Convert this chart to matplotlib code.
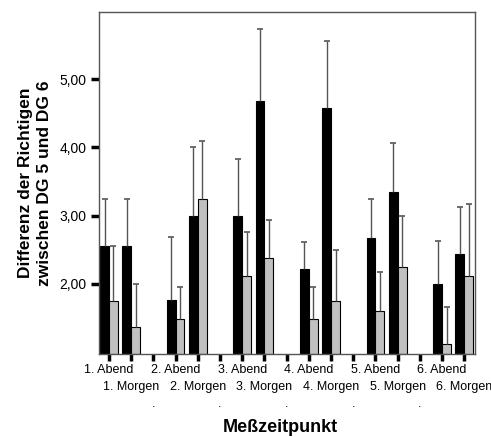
import numpy as np
import matplotlib.pyplot as plt
from matplotlib.transforms import blended_transform_factory

plt.rcParams["font.family"] = ["Liberation Sans", "DejaVu Sans"]

# one entry per measurement point (6 evenings, 6 mornings)
labels = ["1. Abend", "1. Morgen", "2. Abend", "2. Morgen", "3. Abend", "3. Morgen",
          "4. Abend", "4. Morgen", "5. Abend", "5. Morgen", "6. Abend", "6. Morgen"]
black_means = [2.55, 2.55, 1.77, 3.00, 3.00, 4.68, 2.22, 4.57, 2.67, 3.34, 2.00, 2.44]
black_upper = [3.24, 3.25, 2.68, 4.01, 3.83, 5.73, 2.61, 5.56, 3.24, 4.07, 2.63, 3.12]
gray_means = [1.75, 1.37, 1.49, 3.24, 2.11, 2.38, 1.49, 1.75, 1.61, 2.25, 1.12, 2.11]
gray_upper = [2.55, 2.00, 1.95, 4.09, 2.76, 2.94, 1.95, 2.49, 2.18, 3.00, 1.66, 3.17]
yticks = [2, 3, 4, 5]

# positions: two points per day, then an empty slot
pos = np.array([3 * (i // 2) + (i % 2) for i in range(len(labels))])
gaps = np.arange(2, 17, 3)
ymin = 0.975
w = 0.4

fig = plt.figure(figsize=(4.91, 4.37), dpi=100)
ax = fig.add_axes([0.2016, 0.19, 0.7658, 0.7832])

bm = np.array(black_means)
gm = np.array(gray_means)
ax.bar(pos - w / 2, bm - ymin, w, bottom=ymin, color="black", edgecolor="black", linewidth=0.8, zorder=2)
ax.bar(pos + w / 2, gm - ymin, w, bottom=ymin, color="#c0c0c0", edgecolor="black", linewidth=0.8, zorder=2)

for x, m, u in [(pos - w / 2, bm, np.array(black_upper)), (pos + w / 2, gm, np.array(gray_upper))]:
    eb = ax.errorbar(x, m, yerr=[np.zeros_like(m), u - m], fmt="none", ecolor="#555555",
                     elinewidth=1.0, capsize=2.5, capthick=1.2, zorder=3)
    caps = eb[1]
    caps[0].set_visible(False)
    caps[1].set_color("black")

ax.set_xlim(-0.45, 16.48)
ax.set_ylim(ymin, 5.985)

# x tick labels in three staggered rows
ax.set_xticks(np.arange(17))
ax.set_xticklabels([])
trans = blended_transform_factory(ax.transData, fig.transFigure)
for p, lab in zip(pos, labels):
    y = 1 - 370 / 437 if "Abend" in lab else 1 - 387 / 437
    ax.text(p, y, lab, transform=trans, ha="center", va="center", fontsize=9)
for g in gaps:
    ax.text(g, 1 - 404 / 437, ".", transform=trans, ha="center", va="center", fontsize=9)

ax.set_yticks(yticks)
ax.set_yticklabels([f"{v:.2f}".replace(".", ",") for v in yticks], fontsize=10)

ax.tick_params(axis="both", direction="out", width=2.5, color="black")
ax.tick_params(axis="y", length=6, pad=3)
ax.tick_params(axis="x", length=5, pad=3)
for s in ax.spines.values():
    s.set_color("#555555")
    s.set_linewidth(1.0)

fig.text(280 / 491, 1 - 427 / 437, "Meßzeitpunkt", fontsize=13, fontweight="bold",
         ha="center", va="center")
ax.set_ylabel("Differenz der Richtigen\nzwischen DG 5 und DG 6", fontsize=12.5,
              fontweight="bold", linespacing=1.4, labelpad=5)

fig.savefig("out.png", dpi=100)
